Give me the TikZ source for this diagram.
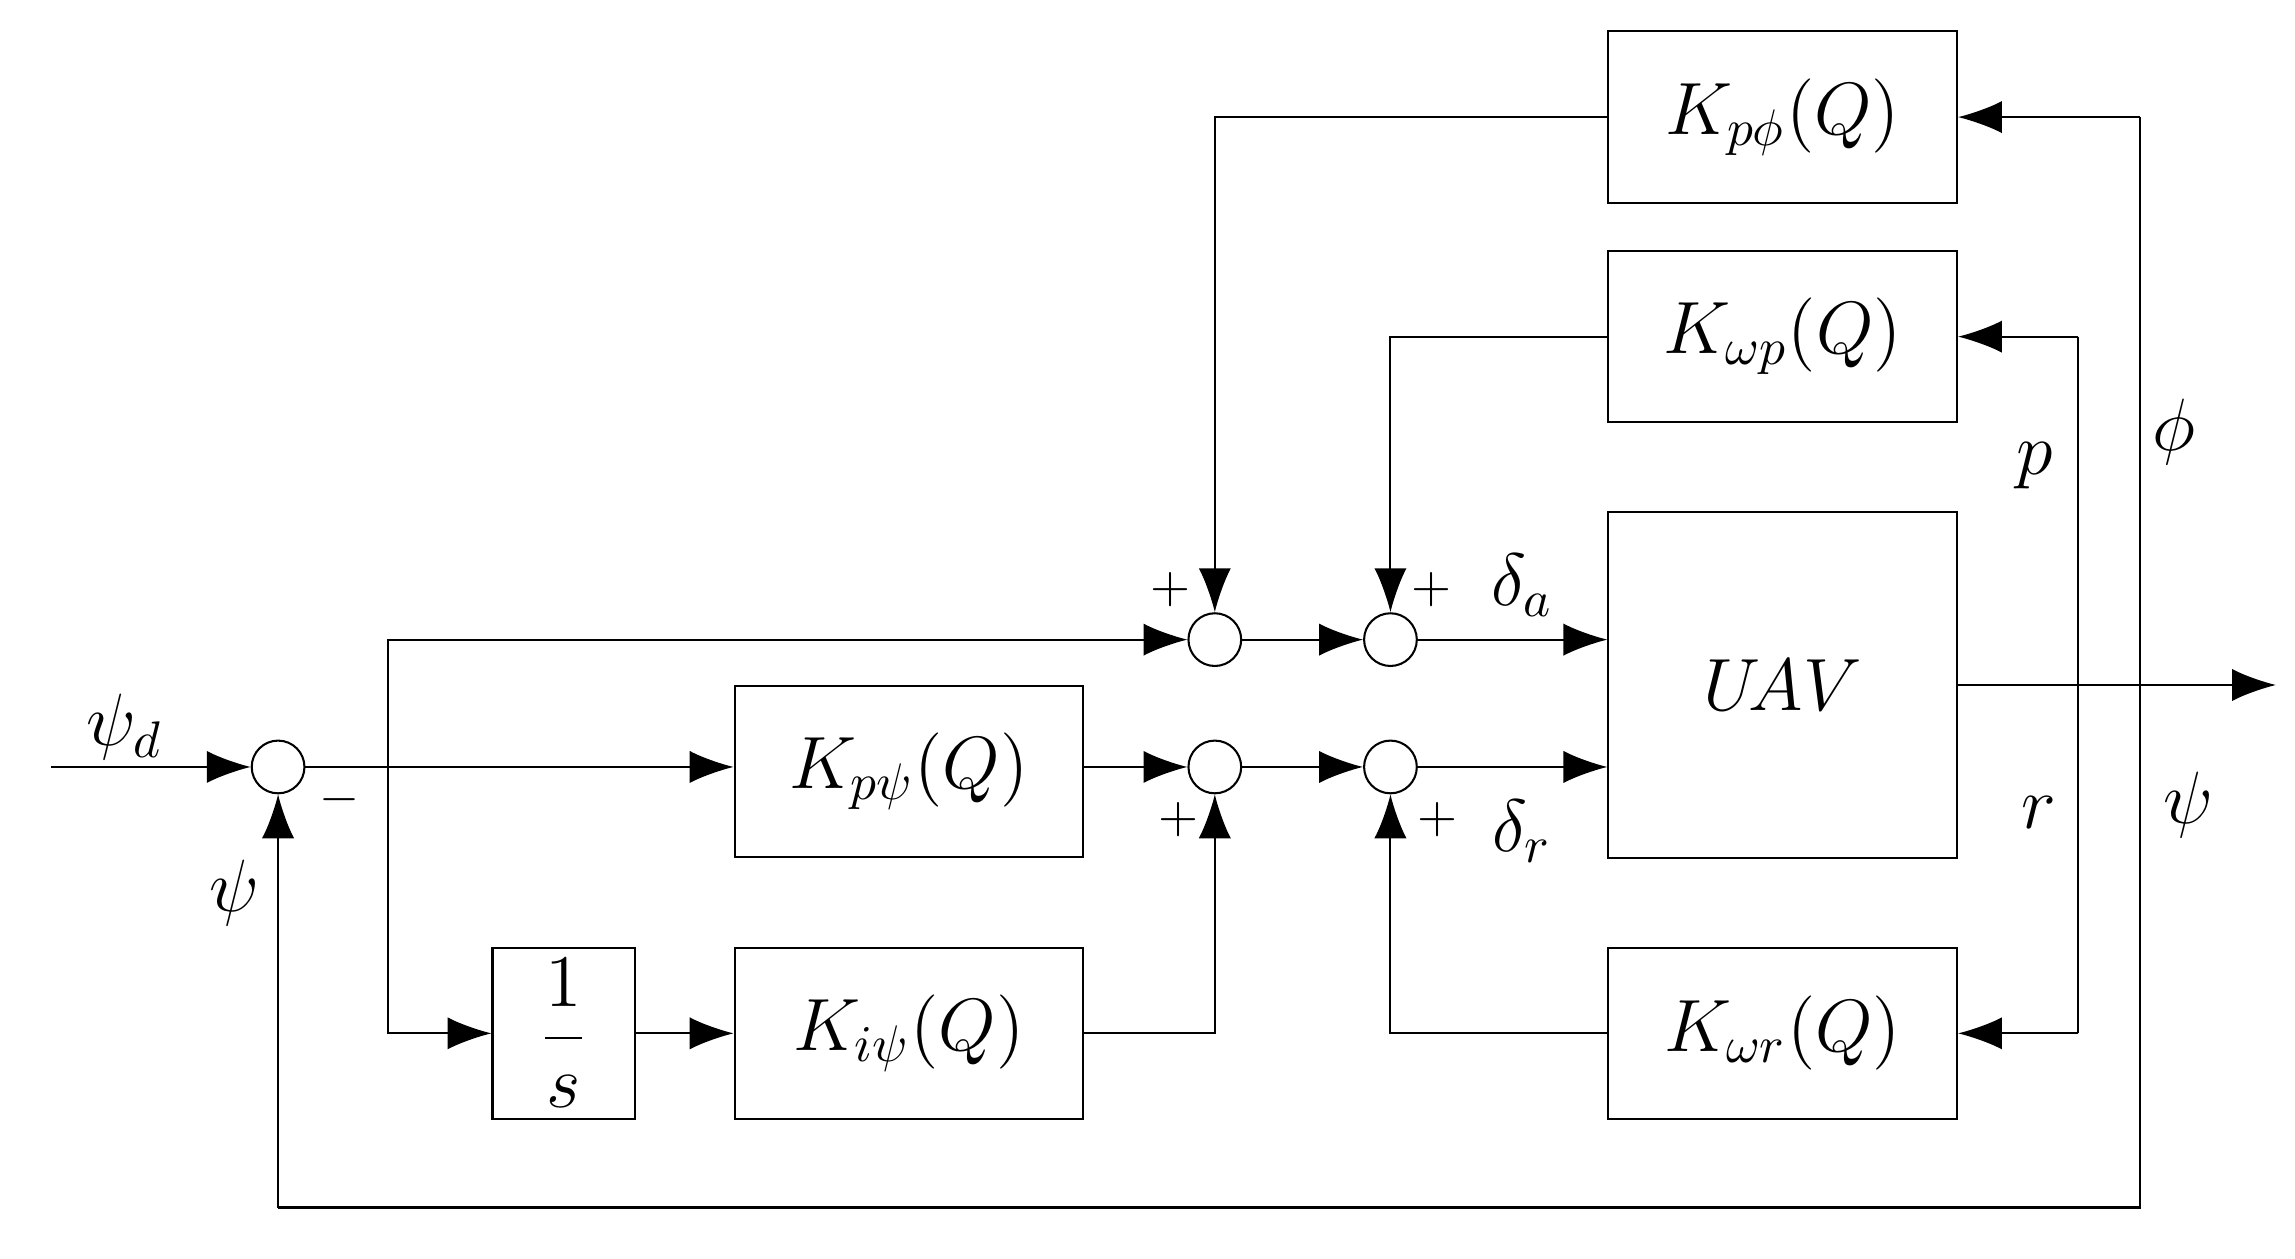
\documentclass[tikz,border=0pt]{standalone}
\usetikzlibrary{arrows.meta}
\begin{document}
\begin{tikzpicture}[x=0.01cm,y=-0.01cm,
  blk/.style={draw,minimum width=2.38cm,minimum height=1.17cm,inner sep=0pt,font=\Large},
  sm/.style={draw,circle,minimum size=0.36cm,inner sep=0pt},
  sig/.style={-{Latex[length=3mm,width=2.2mm]}},
  lbl/.style={font=\Large}]
\useasboundingbox (0,0) rectangle (1568,860);
% blocks
\node[blk] (kpphi) at (1218,80) {$K_{p\phi}(Q)$};
\node[blk] (kwp) at (1218,230) {$K_{\omega p}(Q)$};
\node[blk,minimum height=2.36cm] (uav) at (1218,468) {$U\!AV$};
\node[blk] (kwr) at (1218,706) {$K_{\omega r}(Q)$};
\node[blk] (kppsi) at (621,527) {$K_{p\psi}(Q)$};
\node[blk] (kipsi) at (621,706) {$K_{i\psi}(Q)$};
\node[blk,minimum width=0.97cm] (integ) at (385,706) {$\displaystyle\frac{1}{s}$};
% summing points
\node[sm] (s0) at (190,524) {};
\node[sm] (s1) at (830,437) {};
\node[sm] (s2) at (950,437) {};
\node[sm] (s3) at (830,524) {};
\node[sm] (s4) at (950,524) {};
% helper points
\coordinate (in) at (35,524);
\coordinate (br) at (265,524);
\coordinate (out) at (1555,468);
\coordinate (fb) at (1462,468);
\coordinate (pr) at (1420,468);
% forward path
\draw[sig] (in) -- (s0);
\draw[sig] (s0) -- (s0 -| kppsi.west);
\draw[sig] (br) |- (s1);
\draw[sig] (br) |- (integ);
\draw[sig] (integ) -- (kipsi);
\draw[sig] (kipsi) -| (s3);
\draw[sig] (kppsi.east |- s3) -- (s3);
\draw[sig] (s1) -- (s2);
\draw[sig] (s3) -- (s4);
\draw[sig] (s2) -- (s2 -| uav.west);
\draw[sig] (s4) -- (s4 -| uav.west);
\draw[sig] (uav.east |- out) -- (out);
% feedback
\draw[sig] (fb |- kpphi) -- (kpphi);
\draw (fb |- kpphi) -- (1462,825) -- (190,825);
\draw[sig] (190,825) -- (s0);
\draw[sig] (kpphi) -| (s1);
\draw[sig] (pr |- kwp) -- (kwp);
\draw[sig] (pr |- kwr) -- (kwr);
\draw (pr |- kwp) -- (pr |- kwr);
\draw[sig] (kwp) -| (s2);
\draw[sig] (kwr) -| (s4);
% labels
\node[lbl] at (85,497) {$\psi_d$};
\node[lbl] at (160,610) {$\psi$};
\node at (232,546) {$-$};
\node at (800,403) {$+$};
\node at (978,403) {$+$};
\node at (805,560) {$+$};
\node at (982,560) {$+$};
\node[lbl] at (1040,400) {$\delta_a$};
\node[lbl] at (1040,568) {$\delta_r$};
\node[lbl] at (1390,318) {$p$};
\node[lbl] at (1393,555) {$r$};
\node[lbl] at (1485,295) {$\phi$};
\node[lbl] at (1495,550) {$\psi$};
\end{tikzpicture}
\end{document}
